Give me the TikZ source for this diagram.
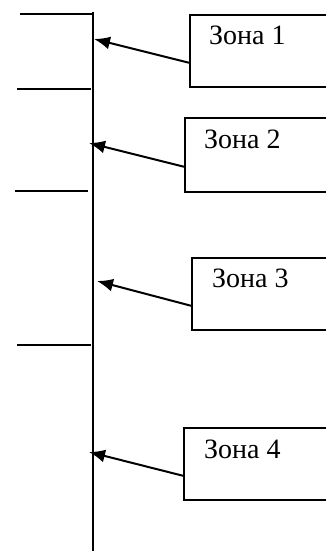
\documentclass[tikz,border=0pt]{standalone}
\usepackage{fontspec}
\setmainfont{Liberation Serif}
\usetikzlibrary{arrows.meta, positioning, calc}

\begin{document}
\begin{tikzpicture}[x=1pt, y=-1pt,
  zonebox/.style={rectangle, draw, line width=1.5pt, minimum width=200pt, minimum height=72pt,
                  anchor=north west, inner sep=0pt},
  zonetext/.style={anchor=base west, inner sep=0pt, font=\fontsize{28}{32}\selectfont},
  sepline/.style={line width=1.5pt},
  arrow/.style={-{Latex[length=16pt,width=13pt]}, line width=2pt}]

  \useasboundingbox (0,0) rectangle (326,554);
  \clip (0,0) rectangle (326,554);

  % vertical axis
  \coordinate (top) at (93,12);
  \coordinate (bot) at (93,551);
  \draw[line width=2pt] (top) -- (bot);

  % separators on the left
  \coordinate (l1) at (20,14);  \coordinate (r1) at (92,14);
  \coordinate (l2) at (17,89);  \coordinate (r2) at (91,89);
  \coordinate (l3) at (15,191); \coordinate (r3) at (88,191);
  \coordinate (l4) at (17,345); \coordinate (r4) at (91,345);
  \draw[sepline] (l1) -- (r1);
  \draw[sepline] (l2) -- (r2);
  \draw[sepline] (l3) -- (r3);
  \draw[sepline] (l4) -- (r4);

  % zones
  \node[zonebox] (b1) at (189,14) {};
  \node[zonebox, minimum height=74pt] (b2) at (184,117) {};
  \node[zonebox] (b3) at (191,257) {};
  \node[zonebox] (b4) at (183,427) {};

  \node[zonetext] (z1) at ($(b1.north west)+(20,30)$) {Зона 1};
  \node[zonetext] (z2) at ($(b2.north west)+(20,31)$) {Зона 2};
  \node[zonetext] (z3) at ($(b3.north west)+(21,30)$) {Зона 3};
  \node[zonetext] (z4) at ($(b4.north west)+(21,31)$) {Зона 4};

  % arrow tips on the axis
  \coordinate (t1) at (94,39);
  \coordinate (t2) at (89,143);
  \coordinate (t3) at (97,281);
  \coordinate (t4) at (89,452);

  \draw[arrow] ([yshift=-12pt]b1.west) -- (t1);
  \draw[arrow] ([yshift=-12pt]b2.west) -- (t2);
  \draw[arrow] ([yshift=-12pt]b3.west) -- (t3);
  \draw[arrow] ([yshift=-12pt]b4.west) -- (t4);
\end{tikzpicture}
\end{document}
